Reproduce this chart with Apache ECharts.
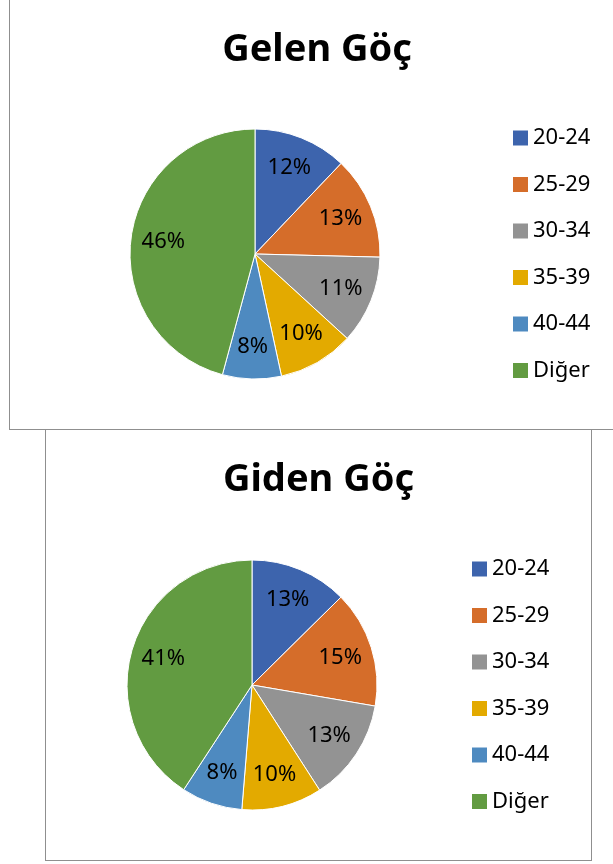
<!DOCTYPE html>
<html>
<head>
<meta charset="utf-8">
<script src="https://cdn.jsdelivr.net/npm/echarts@6/dist/echarts.min.js"></script>
<style>
  html, body { margin: 0; padding: 0; background: #fff; overflow: hidden; }
  .box { position: absolute; border: 1px solid #8f8f8f; box-sizing: border-box; background: #fff; }
  .box .chart { position: absolute; left: 0; top: 0; right: 0; bottom: 0; }
</style>
</head>
<body>
<div class="box" style="left:9px;top:-1px;width:616px;height:431px;"><div class="chart" id="gelen"></div></div>
<div class="box" style="left:45px;top:429px;width:547px;height:432px;"><div class="chart" id="giden"></div></div>
<script>
// yas gruplari
var categories = ['20-24', '25-29', '30-34', '35-39', '40-44', 'Diğer']
var gelenValues = [12.1, 13.3, 11.4, 9.8, 7.6, 45.8]
var gidenValues = [12.6, 15.1, 13.2, 10.4, 7.9, 40.8]
var colors = ['#3D64AD', '#D56D2A', '#939393', '#E3AA00', '#4E8AC0', '#629B41']

function buildOption(title, values, center, legendLeft, legendTop) {
  var data = categories.map(function(name, i) {
    return { name: name, value: values[i] }
  })
  return {
    animation: false,
    color: colors,
    title: {
      text: title,
      left: 'center',
      top: 31,
      padding: 0,
      textStyle: {
        fontFamily: 'Noto Sans',
        fontSize: 38,
        fontWeight: 'bold',
        color: '#000'
      }
    },
    legend: {
      orient: 'vertical',
      left: legendLeft,
      top: legendTop,
      itemWidth: 15,
      itemHeight: 15,
      itemGap: 20.5,
      icon: 'rect',
      data: categories,
      itemStyle: { borderWidth: 0 },
      textStyle: {
        fontFamily: 'Noto Sans',
        fontSize: 22,
        lineHeight: 26,
        color: '#000'
      }
    },
    series: [
      {
        type: 'pie',
        radius: 125,
        center: center,
        label: { show: false },
        labelLine: { show: false },
        itemStyle: { borderColor: '#fff', borderWidth: 1 },
        data: data
      },
      {
        // label ring, only used to put the percentages at ~0.7r
        type: 'pie',
        radius: [54, 125],
        center: center,
        silent: true,
        percentPrecision: 0,
        itemStyle: { color: 'rgba(0,0,0,0)' },
        label: {
          show: true,
          position: 'inside',
          formatter: '{d}%',
          fontFamily: 'Noto Sans',
          fontSize: 22,
          color: '#000'
        },
        labelLine: { show: false },
        data: data
      }
    ]
  }
}

var chart1 = echarts.init(document.getElementById('gelen'))
chart1.setOption(buildOption('Gelen Göç', gelenValues, [245, 254], 498, 120))
var chart2 = echarts.init(document.getElementById('giden'))
chart2.setOption(buildOption('Giden Göç', gidenValues, [206, 255], 421, 121))
window.addEventListener('resize', function() {
  chart1.resize()
  chart2.resize()
})
</script>
</body>
</html>
